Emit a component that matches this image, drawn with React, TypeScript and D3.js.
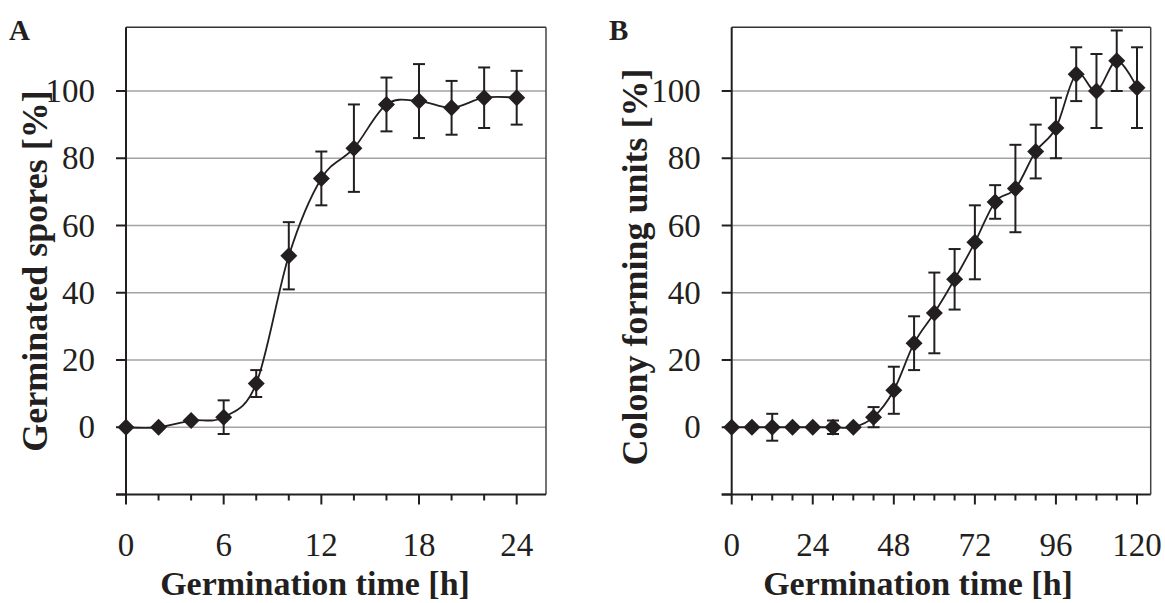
import React from "react";
import * as d3 from "d3";

// ---------- data ----------
const timeA = [0, 2, 4, 6, 8, 10, 12, 14, 16, 18, 20, 22, 24];
const germinatedA = [0, 0, 2, 3, 13, 51, 74, 83, 96, 97, 95, 98, 98];
const errorA = [0, 0, 0, 5, 4, 10, 8, 13, 8, 11, 8, 9, 8];

const timeB = [0, 6, 12, 18, 24, 30, 36, 42, 48, 54, 60, 66, 72, 78, 84, 90, 96, 102, 108, 114, 120];
const cfuB = [0, 0, 0, 0, 0, 0, 0, 3, 11, 25, 34, 44, 55, 67, 71, 82, 89, 105, 100, 109, 101];
const errorB = [0, 0, 4, 0, 0, 2, 0, 3, 7, 8, 12, 9, 11, 5, 13, 8, 9, 8, 11, 9, 12];

const yTicks = [-20, 0, 20, 40, 60, 80, 100];
const yLabels = [0, 20, 40, 60, 80, 100];
const xTicksA = d3.range(0, 25, 2);
const xLabelsA = [0, 6, 12, 18, 24];
const xTicksB = d3.range(0, 121, 6);
const xLabelsB = [0, 24, 48, 72, 96, 120];

const FONT = "'Liberation Serif', 'Times New Roman', serif";
const INK = "#231f20";

type PanelProps = {
  letter: string;
  letterX: number;
  left: number;
  right: number;
  x0px: number;
  xMaxVal: number;
  xMaxPx: number;
  xs: number[];
  ys: number[];
  errs: number[];
  xTicks: number[];
  xLabels: number[];
  majorEvery: number;
  yTitle: string;
  yTitleX: number;
  yTitleY: number;
  xTitleX: number;
};

const TOP = 27.3;
const BOTTOM = 494.5;
const R = 8.5;
const DIAMOND = `M0,${-R}L${R},0L0,${R}L${-R},0Z`;

function Panel(p: PanelProps) {
  const x = d3.scaleLinear().domain([0, p.xMaxVal]).range([p.x0px, p.xMaxPx]);
  const y = d3.scaleLinear().domain([-20, 100]).range([BOTTOM, 91]);
  const pts = p.xs.map((v, i) => ({ x: v, y: p.ys[i], e: p.errs[i] }));
  const line = d3
    .line<{ x: number; y: number }>()
    .x((d) => x(d.x))
    .y((d) => y(d.y))
    .curve(d3.curveCardinal.tension(0));
  return (
    <g>
      <text x={p.letterX} y={40} fontFamily={FONT} fontWeight="bold" fontSize={29} fill={INK}>
        {p.letter}
      </text>
      {/* grid */}
      {yLabels.map((t) => (
        <line key={"g" + t} x1={p.left} x2={p.right} y1={y(t)} y2={y(t)} stroke="#a3a3a3" strokeWidth={1.6} />
      ))}
      {/* frame */}
      <line x1={p.left} x2={p.right} y1={TOP} y2={TOP} stroke="#333" strokeWidth={1.5} />
      <line x1={p.right} x2={p.right} y1={TOP} y2={BOTTOM} stroke="#444" strokeWidth={1.5} />
      <line x1={p.left} x2={p.left} y1={TOP} y2={BOTTOM} stroke={INK} strokeWidth={2} />
      <line x1={p.left - 10} x2={p.right} y1={BOTTOM} y2={BOTTOM} stroke={INK} strokeWidth={2} />
      {/* y ticks */}
      {yTicks.map((t) => (
        <line key={"yt" + t} x1={p.left - 10} x2={p.left} y1={y(t)} y2={y(t)} stroke={INK} strokeWidth={2} />
      ))}
      {yLabels.map((t) => (
        <text
          key={"yl" + t}
          x={p.left - 31}
          y={y(t)}
          dy="0.34em"
          textAnchor="end"
          fontFamily={FONT}
          fontSize={33}
          fill={INK}
        >
          {t}
        </text>
      ))}
      {/* x ticks */}
      {p.xTicks.map((t) => (
        <line
          key={"xt" + t}
          x1={x(t)}
          x2={x(t)}
          y1={BOTTOM}
          y2={BOTTOM + (t % p.majorEvery === 0 ? 10 : 6)}
          stroke={INK}
          strokeWidth={2}
        />
      ))}
      {p.xLabels.map((t) => (
        <text key={"xl" + t} x={x(t)} y={556} textAnchor="middle" fontFamily={FONT} fontSize={33} fill={INK}>
          {t}
        </text>
      ))}
      <text
        x={p.xTitleX}
        y={595}
        textAnchor="middle"
        fontFamily={FONT}
        fontWeight="bold"
        fontSize={34}
        fill={INK}
      >
        Germination time [h]
      </text>
      <text
        transform={`translate(${p.yTitleX},${p.yTitleY}) rotate(-90)`}
        textAnchor="middle"
        fontFamily={FONT}
        fontWeight="bold"
        fontSize={36}
        fill={INK}
      >
        {p.yTitle}
      </text>
      {/* error bars */}
      {pts
        .filter((d) => d.e > 0)
        .map((d) => (
          <g key={"e" + d.x} stroke={INK} strokeWidth={2}>
            <line x1={x(d.x)} x2={x(d.x)} y1={y(d.y - d.e)} y2={y(d.y + d.e)} />
            <line x1={x(d.x) - 6} x2={x(d.x) + 6} y1={y(d.y - d.e)} y2={y(d.y - d.e)} />
            <line x1={x(d.x) - 6} x2={x(d.x) + 6} y1={y(d.y + d.e)} y2={y(d.y + d.e)} />
          </g>
        ))}
      <path d={line(pts) || ""} fill="none" stroke={INK} strokeWidth={1.8} />
      {pts.map((d) => (
        <path key={"m" + d.x} d={DIAMOND} transform={`translate(${x(d.x)},${y(d.y)})`} fill={INK} />
      ))}
    </g>
  );
}

export default function App() {
  return (
    <svg
      width={1165}
      height={603}
      style={{ position: "absolute", left: 0, top: 0, background: "#fff" }}
    >
      <rect width={1165} height={603} fill="#fff" />
      <Panel
        letter="A"
        letterX={9}
        left={126}
        right={546}
        x0px={126}
        xMaxVal={24}
        xMaxPx={516.7}
        xs={timeA}
        ys={germinatedA}
        errs={errorA}
        xTicks={xTicksA}
        xLabels={xLabelsA}
        majorEvery={6}
        yTitle="Germinated spores [%]"
        yTitleX={47}
        yTitleY={271}
        xTitleX={315}
      />
      <Panel
        letter="B"
        letterX={609}
        left={731.7}
        right={1150.7}
        x0px={731.7}
        xMaxVal={120}
        xMaxPx={1137}
        xs={timeB}
        ys={cfuB}
        errs={errorB}
        xTicks={xTicksB}
        xLabels={xLabelsB}
        majorEvery={24}
        yTitle="Colony forming units [%]"
        yTitleX={647}
        yTitleY={267}
        xTitleX={918}
      />
    </svg>
  );
}
